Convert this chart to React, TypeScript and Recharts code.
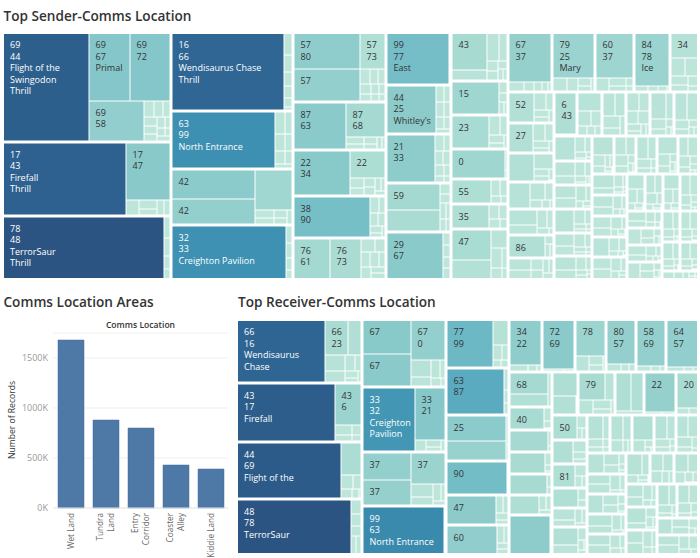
import React from 'react';
import { Treemap, BarChart, Bar, XAxis, YAxis, CartesianGrid } from 'recharts';

// ---------------- Bar chart data ----------------
const areaNames = ['Wet Land', 'Tundra Land', 'Entry Corridor', 'Coaster Alley', 'Kiddie Land'];
const areaTickLines = [['Wet Land'], ['Tundra', 'Land'], ['Entry', 'Corridor'], ['Coaster', 'Alley'], ['Kiddie Land']];
const areaRecords = [1680000, 880000, 800000, 430000, 390000];
const recordTicks = [0, 500000, 1000000, 1500000];

// ---------------- Sender treemap data ----------------
const senderIds = [
  '69', '17', '78', '16', '63', '42', '32', '57', '87', '22', '38', '76',
  '99', '44', '21', '59', '29', '43', '15', '23', '0', '55', '35',
  '47', '67', '79', '60', '84', '34', '52', '27', '11', '8', '93',
  '86', '12', '6', '28', '41', '19',
  '2', '5', '9', '14', '18', '20', '24', '26', '30', '31', '36', '39', '40',
  '45', '46', '48', '49', '50', '51', '53', '54', '56', '61', '62', '64', '65',
  '66', '68', '70', '71', '73',
];
const senderCounts: number[][] = [
  [8800, 2640, 2640, 2150, 150, 130, 120, 110, 100, 90, 80, 70, 60, 50, 40],
  [8640, 2500, 200, 150, 120, 100, 90],
  [9540, 150, 120, 90, 60],
  [8360, 180, 150, 120, 100, 80, 50],
  [5824, 220, 180, 160, 140, 120, 100, 80],
  [2400, 2100, 1500, 150, 120, 100, 80, 50],
  [5750, 120, 100, 80, 50],
  [2250, 2100, 870, 150, 120, 110, 100, 90, 80, 70, 60, 50],
  [2450, 1365, 120, 100, 90, 70, 60, 50],
  [2520, 980, 130, 110, 100, 90, 80, 60, 60],
  [3080, 140, 120, 100, 90, 80, 60, 40],
  [1400, 1150, 180, 160, 130, 120, 110, 100, 90, 60],
  [3100, 60, 40],
  [2350, 130, 120, 110, 100, 90, 80, 70],
  [2300, 140, 120, 110, 100, 90, 80, 60, 50],
  [1400, 1130, 120, 100, 90, 80, 70, 70],
  [2450, 100, 90, 80, 70],
  [1250, 380, 320, 220, 110, 100, 80, 60, 50],
  [1550, 100, 80, 60, 50],
  [1220, 200, 150, 120, 80, 60],
  [1560, 60, 40],
  [960, 150, 120, 80, 60],
  [900, 140, 120, 100, 80],
  [1170, 650, 300, 200, 120, 100, 80],
  [2030, 150, 100, 80, 60, 40],
  [1820, 200, 150, 100, 70, 50],
  [1630, 180, 130, 90, 60, 50],
  [1790, 80, 60, 50, 30],
  [600, 250, 200, 150, 120, 80, 40],
  [750, 200, 150, 100, 80, 70],
  [720, 200, 150, 100, 80, 50],
  [700, 300, 100, 80, 50, 30],
  [550, 250, 150, 100, 70, 50],
  [450, 250, 180, 120, 80, 45],
  [800, 80, 60, 60],
  [300, 200, 150, 120, 100, 80, 50],
  [910, 40],
  [460, 200, 150, 100, 80, 60],
  [300, 250, 200, 150, 100],
  [250, 200, 150, 150, 100, 80, 60, 40],
  [400, 200, 150, 100, 60, 40, 20, 20],
  [350, 250, 120, 100, 50, 40, 25, 15],
  [500, 150, 120, 60, 40, 30, 20],
  [300, 200, 150, 100, 60, 40, 25, 15],
  [280, 220, 160, 80, 50, 40, 25, 15],
  [450, 150, 100, 60, 40, 30, 20, 10],
  [250, 200, 150, 90, 60, 40, 30, 20],
  [300, 180, 140, 80, 50, 40, 20, 10],
  [400, 140, 100, 60, 40, 30, 20, 10],
  [220, 180, 150, 100, 60, 40, 25, 15],
  [260, 200, 130, 80, 50, 30, 15, 5],
  [350, 150, 100, 60, 40, 30, 20, 10],
  [200, 180, 140, 90, 60, 40, 20, 10],
  [300, 160, 110, 60, 40, 30, 15, 5],
  [240, 180, 120, 70, 50, 30, 15, 5],
  [220, 160, 130, 70, 50, 30, 20, 10],
  [330, 140, 100, 50, 30, 15, 5],
  [200, 150, 130, 70, 50, 30, 20, 10],
  [260, 140, 100, 60, 40, 25, 15],
  [180, 150, 120, 70, 50, 30, 20, 10],
  [240, 130, 100, 60, 40, 25, 15],
  [200, 140, 110, 60, 40, 30, 15, 5],
  [180, 130, 100, 70, 50, 30, 15, 5],
  [220, 120, 90, 60, 40, 25, 15],
  [170, 130, 100, 70, 40, 30, 15, 5],
  [200, 120, 90, 60, 35, 20, 15],
  [190, 130, 90, 60, 40, 20, 10],
  [180, 120, 90, 60, 35, 20, 10],
  [170, 120, 80, 60, 35, 20, 10],
  [160, 110, 80, 60, 30, 20, 10],
  [150, 110, 80, 50, 30, 20, 10],
];
// receiver labels for the leading cells of each sender group ('' = show the sender only)
const senderReceivers: string[][] = [
  ['44', '67', '72', '58'], ['43', '47'], ['48'], ['66'], ['99'], ['60', ''], ['33'],
  ['80', '64', '73'], ['63', '68'], ['34', ''], ['90'], ['61', '73'],
  ['77'], ['25'], ['33'], [''], ['67'], [''], ['40'], ['66'], ['67'], [''], [''],
  ['79'], ['37'], ['25'], ['37'], ['78'], [''], [''], [''], [], [], [],
  [''], [], ['43'], [''], [], [],
];
const senderPlaces: Record<string, string[]> = {
  '69-44': ['Flight of the Swingodon', 'Thrill'],
  '69-67': ['Primal'],
  '17-43': ['Firefall', 'Thrill'],
  '78-48': ['TerrorSaur', 'Thrill'],
  '16-66': ['Wendisaurus Chase', 'Thrill'],
  '63-99': ['North Entrance'],
  '32-33': ['Creighton Pavilion'],
  '99-77': ['East'],
  '44-25': ["Whitley's"],
  '79-25': ['Mary'],
  '84-78': ['Ice'],
};

// ---------------- Receiver treemap data ----------------
const receiverIds = [
  '66', '43', '44', '48', '67', '33', '37', '99', '77', '63', '25', '90', '47', '60',
  '34', '72', '78', '80', '58', '64', '68', '40', '89', '61', '75', '46',
  '13', '7', '79', '15', '22', '20', '50', '3', '81', '4', '10',
  '1', '2', '5', '8', '9', '11', '12', '14', '16', '18', '19', '21', '23', '24',
  '26', '27', '28', '29', '30', '31', '32',
];
const receiverCounts: number[][] = [
  [4920, 700, 455, 300, 200, 150, 100, 80, 60, 50],
  [5220, 1025, 150, 120, 90, 60],
  [5280, 620, 150, 120, 100, 60, 50],
  [5560, 150, 120, 100, 80, 70],
  [1470, 1430, 1220, 300, 200, 150, 100, 80, 60],
  [3150, 1510, 120, 100, 60, 40],
  [1220, 1175, 1020, 250, 180, 120, 80, 60],
  [3600, 50, 30],
  [2020, 345, 120, 100, 60, 50],
  [2460, 100, 60, 40],
  [1390, 1100, 80, 60],
  [1860, 60],
  [1370, 120, 100, 80, 60],
  [1300, 110, 90, 60, 40],
  [1310, 120, 60, 45],
  [1430, 60, 30],
  [1000, 200, 120, 80, 50],
  [1200, 110, 60, 40],
  [1230, 80, 50, 40],
  [1250, 80, 40, 20],
  [780, 450, 120],
  [725, 100, 50, 25],
  [785, 60, 30],
  [700, 80, 40, 20],
  [730, 60, 40],
  [550, 100, 80, 60],
  [1340, 50],
  [560, 400, 40],
  [700, 250, 200, 150, 100, 50],
  [550, 480, 100],
  [1170, 50, 30],
  [700, 80, 45],
  [575, 120, 60, 45],
  [460, 150, 90, 50],
  [500, 130, 80, 60],
  [480, 100, 70],
  [250, 150, 100, 60, 40],
  [400, 200, 100, 50, 30, 20],
  [350, 150, 120, 80, 50, 30],
  [300, 200, 150, 60, 40, 20],
  [500, 150, 60, 30, 20],
  [280, 200, 120, 80, 40, 30],
  [250, 180, 150, 80, 50, 30],
  [320, 160, 120, 70, 40, 20],
  [220, 200, 150, 80, 40, 30],
  [300, 150, 120, 70, 50, 20],
  [260, 180, 130, 70, 40, 20],
  [240, 170, 130, 80, 50, 20],
  [330, 150, 100, 50, 30, 20],
  [210, 170, 140, 80, 50, 20],
  [250, 160, 120, 70, 40, 20],
  [200, 160, 130, 80, 50, 30],
  [280, 140, 100, 60, 40, 20],
  [190, 160, 130, 80, 50, 20],
  [230, 150, 110, 70, 40, 20],
  [200, 140, 120, 70, 50, 30],
  [220, 140, 110, 70, 40, 20],
  [180, 150, 120, 80, 40, 20],
];
const receiverSenders: string[][] = [
  ['16', '23'], ['17', '6'], ['69'], ['78'], ['', '', '0'], ['32', '21'], ['', '', ''], ['63'],
  ['99'], ['87'], [''], [''], [''], [''],
  ['22'], ['69'], [''], ['57'], ['69'], ['57'], ['', ''], [''], [''], [''], [''], [''],
  [], [], [''], ['', ''], [''], [''], [''], [], [''], [], [],
];
const receiverPlaces: Record<string, string[]> = {
  '66-16': ['Wendisaurus Chase'],
  '43-17': ['Firefall'],
  '44-69': ['Flight of the Swingodon'],
  '48-78': ['TerrorSaur'],
  '33-32': ['Creighton Pavilion'],
  '99-63': ['North Entrance'],
};

// ---------------- helpers ----------------
const FONT = '"Open Sans", "Noto Sans", sans-serif';
const FS = 9;
const LH = 11.6;

function buildTree(ids: string[], counts: number[][], labels: string[][], places: Record<string, string[]>) {
  return ids.map((id, gi) => ({
    name: id,
    children: counts[gi].map((v, ci) => {
      const lab = labels[gi] ? labels[gi][ci] : undefined;
      return {
        name: `${id}-${ci}`,
        value: v,
        lead: id,
        to: lab,
        place: lab ? places[`${id}-${lab}`] : undefined,
      };
    }),
  }));
}

const senderTree = buildTree(senderIds, senderCounts, senderReceivers, senderPlaces);
const receiverTree = buildTree(receiverIds, receiverCounts, receiverSenders, receiverPlaces);
const senderMax = Math.max(...senderCounts.flat());
const receiverMax = Math.max(...receiverCounts.flat());

const STOPS: [number, string][] = [
  [0, '#c1e7db'], [0.12, '#aadcd3'], [0.25, '#8ccbcb'], [0.35, '#6fbac6'], [0.5, '#4ea2bc'],
  [0.62, '#3b8eb0'], [0.78, '#33779f'], [0.9, '#2e6290'], [1, '#2b5482'],
];
function hex(c: string) {
  return [parseInt(c.slice(1, 3), 16), parseInt(c.slice(3, 5), 16), parseInt(c.slice(5, 7), 16)];
}
function colorAt(t: number) {
  const tt = Math.max(0, Math.min(1, t));
  for (let i = 1; i < STOPS.length; i++) {
    if (tt <= STOPS[i][0]) {
      const [t0, c0] = STOPS[i - 1];
      const [t1, c1] = STOPS[i];
      const f = (tt - t0) / (t1 - t0);
      const a = hex(c0), b = hex(c1);
      const m = a.map((v, k) => Math.round(v + (b[k] - v) * f));
      return `rgb(${m[0]},${m[1]},${m[2]})`;
    }
  }
  return STOPS[STOPS.length - 1][1];
}

let measureCtx: any = null;
function textW(s: string) {
  if (!measureCtx && typeof document !== 'undefined') {
    measureCtx = document.createElement('canvas').getContext('2d');
  }
  if (measureCtx) {
    measureCtx.font = `${FS}px "Open Sans"`;
    return measureCtx.measureText(s).width;
  }
  return s.length * FS * 0.53;
}
function wrap(s: string, avail: number) {
  const words = s.split(' ');
  const out: string[] = [];
  let cur = '';
  for (const w of words) {
    const trial = cur ? cur + ' ' + w : w;
    if (!cur || textW(trial) <= avail) cur = trial;
    else { out.push(cur); cur = w; }
  }
  if (cur) out.push(cur);
  return out;
}
function labelLines(node: any, w: number, h: number) {
  if (node.to === undefined || node.to === null) return [];
  const avail = w - 8;
  const maxLines = h < 20 ? 0 : Math.floor((h - 20) / LH) + 1;
  const raw: string[] = [node.lead];
  if (node.to) raw.push(node.to);
  if (node.place) {
    raw.push(...wrap(node.place[0], avail));
    if (node.place[1]) raw.push(node.place[1]);
  }
  const out: string[] = [];
  for (const l of raw) {
    if (out.length >= maxLines) break;
    if (textW(l) > avail) break;
    out.push(l);
  }
  return out;
}

function makeCell(maxVal: number, W: number, H: number) {
  const groups: { x: number; y: number; width: number; height: number }[] = [];
  return function Cell(props: any) {
    const { depth, x, y, width, height } = props;
    if (depth === 0) { groups.length = 0; return <g />; }
    if (depth === 1) { groups.push({ x, y, width, height }); return <g />; }
    let p: any = props.root && props.root.depth === 1 ? props.root : null;
    if (!p) {
      const cx = x + width / 2, cy = y + height / 2;
      p = groups.find(g => cx >= g.x && cx <= g.x + g.width && cy >= g.y && cy <= g.y + g.height) || { x, y, width, height };
    }
    const near = (a: number, b: number) => Math.abs(a - b) < 0.5;
    const inset = (edge: number, groupEdge: number, outer: number) =>
      near(edge, outer) ? 0 : near(edge, groupEdge) ? 1.5 : 0.5;
    const l = inset(x, p.x, 0);
    const t = inset(y, p.y, 0);
    const r = inset(x + width, p.x + p.width, W);
    const b = inset(y + height, p.y + p.height, H);
    const rw = width - l - r;
    const rh = height - t - b;
    if (rw <= 0 || rh <= 0) return <g />;
    const tv = props.value / maxVal;
    const lines = labelLines(props, rw, rh);
    const txt = tv > 0.5 ? '#ffffff' : '#333333';
    return (
      <g>
        <rect x={x + l} y={y + t} width={rw} height={rh} fill={colorAt(tv)} />
        {lines.map((s, i) => (
          <text key={i} x={x + l + 6} y={y + t + 14 + i * LH} fontSize={FS} fill={txt} fontFamily={FONT}>
            {s}
          </text>
        ))}
      </g>
    );
  };
}
const SW = 693, SH = 244, RW = 459, RH = 232;
const senderCell = makeCell(senderMax, SW, SH);
const receiverCell = makeCell(receiverMax, RW, RH);

function AreaTick(props: any) {
  const { x, y, payload } = props;
  const idx = areaNames.indexOf(payload.value);
  const lines = areaTickLines[idx] || [String(payload.value)];
  const n = lines.length;
  return (
    <g transform={`translate(${x},${y})`}>
      <text transform="rotate(-90)" textAnchor="end" fontSize={8.2} fill="#666" fontFamily={FONT}>
        {lines.map((s, i) => (
          <tspan key={i} x={-5} y={(i - (n - 1) / 2) * 11.7 + 3}>{s}</tspan>
        ))}
      </text>
    </g>
  );
}

const areaData = areaNames.map((n, i) => ({ area: n, records: areaRecords[i] }));

export default function App() {
  return (
    <div style={{ position: 'absolute', left: 0, top: 0, width: 700, height: 558, background: '#fff', overflow: 'hidden', fontFamily: FONT }}>
      <svg width={700} height={558} style={{ position: 'absolute', left: 0, top: 0 }}>
        <text x={3.5} y={20.5} fontSize={13.6} fontWeight={600} fill="#333" fontFamily={FONT}>Top Sender-Comms Location</text>
        <text x={3.5} y={307} fontSize={13.6} fontWeight={600} fill="#333" fontFamily={FONT}>Comms Location Areas</text>
        <text x={238} y={307} fontSize={13.6} fontWeight={600} fill="#333" fontFamily={FONT}>Top Receiver-Comms Location</text>
        <text x={140.5} y={328} fontSize={8.6} fontWeight={600} fill="#333" textAnchor="middle" fontFamily={FONT}>Comms Location</text>
        <text x={15} y={420} fontSize={8.6} fill="#333" textAnchor="middle" transform="rotate(-90 15 420)" fontFamily={FONT}>Number of Records</text>
      </svg>
      <div style={{ position: 'absolute', left: 4, top: 34 }}>
        <Treemap width={SW} height={SH} data={senderTree} dataKey="value" aspectRatio={1.618} isAnimationActive={false} content={senderCell as any} />
      </div>
      <div style={{ position: 'absolute', left: 238, top: 321 }}>
        <Treemap width={RW} height={RH} data={receiverTree} dataKey="value" aspectRatio={1.7} isAnimationActive={false} content={receiverCell as any} />
      </div>
      <div style={{ position: 'absolute', left: 0, top: 310 }}>
        <BarChart width={235} height={248} data={areaData} margin={{ top: 23, right: 7, bottom: 0, left: 0 }}>
          <CartesianGrid vertical={false} stroke="#efefef" />
          <XAxis dataKey="area" interval={0} tick={<AreaTick />} tickLine={false} tickSize={0} tickMargin={0} axisLine={{ stroke: '#e8e8e8' }} height={50} />
          <YAxis width={53} domain={[0, 1750000]} ticks={recordTicks} tickFormatter={(v: number) => `${v / 1000}K`} tick={{ fontSize: 9, fill: '#999', fontFamily: FONT }} axisLine={false} tickLine={false} tickSize={5} tickMargin={0} />
          <Bar dataKey="records" fill="#4e79a7" stroke="#44699a" strokeWidth={0.5} barSize={26} isAnimationActive={false} />
        </BarChart>
      </div>
    </div>
  );
}
